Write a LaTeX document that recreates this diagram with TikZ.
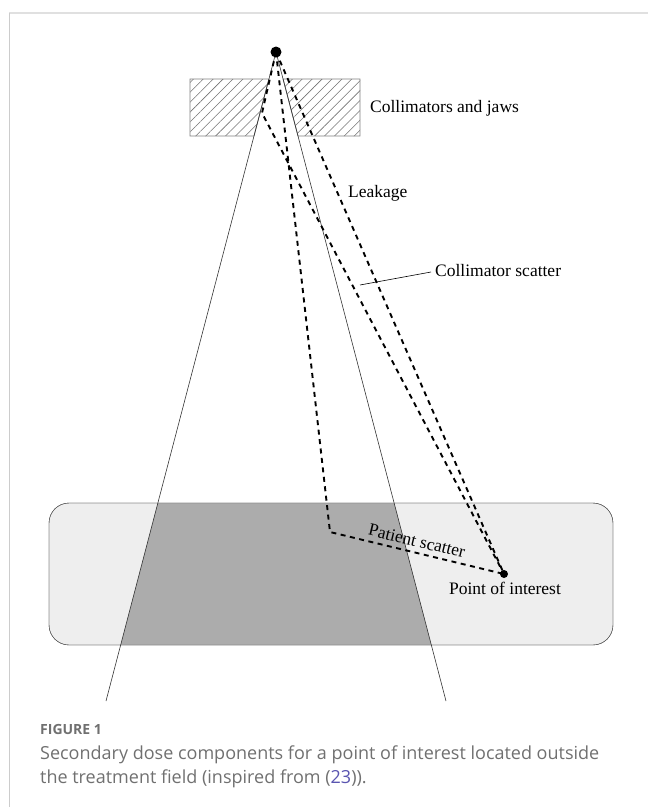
\documentclass[tikz,border=0pt]{standalone}
\usepackage{fontspec}
\setmainfont{Liberation Serif}
\newfontfamily\capfont{Open Sans}
\usetikzlibrary{calc,patterns.meta}
\definecolor{tissue}{HTML}{EEEEEE}
\definecolor{field}{HTML}{ACACAC}
\definecolor{capgray}{HTML}{707070}
\definecolor{reflink}{HTML}{5A55B0}
\tikzset{
  beam/.style={line width=0.6pt, black!80},
  ray/.style={line width=1.9pt, dash pattern=on 5pt off 4.5pt},
  jaw/.style={draw=gray, line width=0.8pt, pattern={Lines[angle=45,distance=7pt,line width=0.55pt]}, pattern color=black!55},
  lbl/.style={font=\fontsize{17.5}{20}\selectfont, inner sep=0pt},
  caption/.style={anchor=base west, inner sep=0pt, text=capgray},
}
\begin{document}
\begin{tikzpicture}[x=1pt,y=-1pt]
\useasboundingbox (0,0) rectangle (648,807);
% frame
\draw[line width=1.5pt, black!12] (9,13) -- (648,13);
\draw[line width=1pt, black!20] (9,13) -- (9,807);
\coordinate (src) at (276,52);
\coordinate (bl) at (106,701);
\coordinate (br) at (446,701);
\coordinate (poi) at (504,574);
\coordinate (cs) at (262,113);
\coordinate (ps) at (330,532);
\coordinate (cstip) at (360,285);
% patient and field
\draw[fill=tissue, draw=black!65, rounded corners=20pt] (49,503) rectangle (613,645);
\begin{scope}
\clip[rounded corners=20pt] (49,503) rectangle (613,645);
\fill[field] (src) -- (bl) -- (br) -- cycle;
\end{scope}
\draw[draw=black!65, rounded corners=20pt] (49,503) rectangle (613,645);
% jaws
\path[jaw] (190,79) -- ($(src)!0.0416!(bl)$) -- ($(src)!0.1294!(bl)$) -- (190,136) -- cycle;
\path[jaw] ($(src)!0.0416!(br)$) -- (360,79) -- (360,136) -- ($(src)!0.1294!(br)$) -- cycle;
\draw[beam] (src) -- (bl);
\draw[beam] (src) -- (br);
% rays
\draw[ray] (src) -- (poi);
\draw[ray] (src) -- (cs) -- (poi);
\draw[ray] (src) -- (ps) -- (poi);
\fill (src) circle (5.5);
\fill (poi) circle (4);
% labels
\node[lbl, anchor=west] (jawlbl) at (370,108) {Collimators and jaws};
\node[lbl, anchor=west] (leaklbl) at (348,193) {Leakage};
\node[lbl, anchor=west] (cslbl) at (435,271) {Collimator scatter};
\draw[line width=0.6pt] (cstip) -- ($(cslbl.west)+(-4,1)$);
\node[lbl, rotate=-13.6] (pslbl) at (417,541) {Patient scatter};
\node[lbl] (poilbl) at (505,588) {Point of interest};
% caption
\node[caption, font=\capfont\bfseries\fontsize{14}{16}\selectfont] (fig) at (40,734) {FIGURE 1};
\node[caption, font=\capfont\fontsize{18}{22}\selectfont] (capa) at (40,759) {Secondary dose components for a point of interest located outside};
\node[caption, font=\capfont\fontsize{18}{22}\selectfont] (capb) at (40,783) {the treatment field (inspired from (\textcolor{reflink}{23})).};
\end{tikzpicture}
\end{document}
